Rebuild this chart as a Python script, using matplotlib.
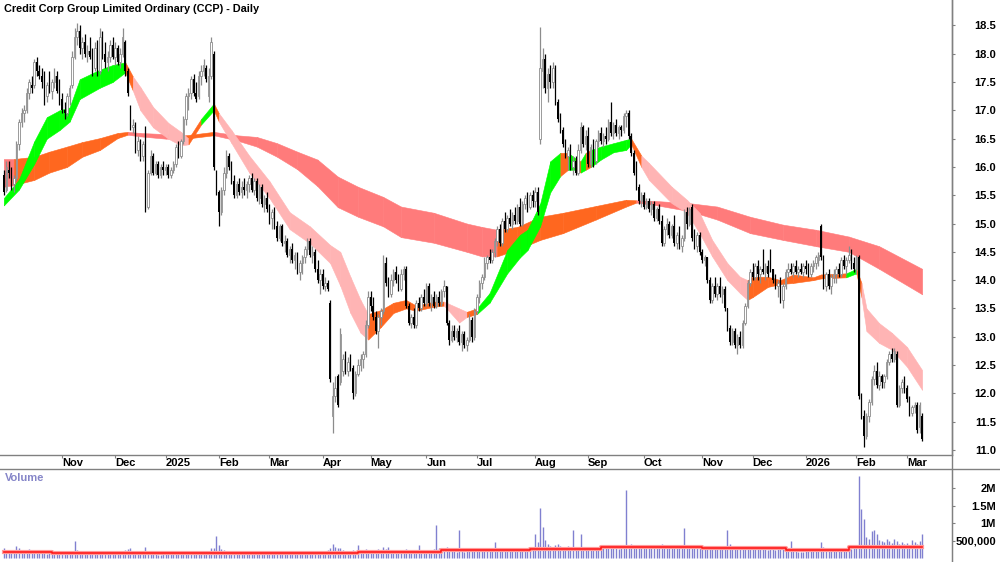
import numpy as np
import pandas as pd
import matplotlib
matplotlib.use("Agg")
import matplotlib.pyplot as plt
from matplotlib.lines import Line2D

FONT = ['Liberation Sans', 'DejaVu Sans']

# trading days (ASX), Oct 2024 - Mar 2026
holidays = ["2024-12-25", "2024-12-26", "2025-01-01", "2025-01-27", "2025-04-18",
            "2025-04-21", "2025-04-25", "2025-06-09", "2025-12-25", "2025-12-26",
            "2026-01-01", "2026-01-26"]
dates = pd.bdate_range("2024-10-01", "2026-03-10")
dates = dates[~dates.isin(pd.to_datetime(holidays))]

# daily prices, one line per month
opens = [
    15.85,15.6,15.95,15.9,15.7,15.8,16.4,16.8,16.95,17.0,17.3,17.45,17.45,17.85,17.7,17.6,17.5,17.25,17.45,17.35,17.5,17.6,17.35,
    17.2,17.0,16.95,17.25,17.45,17.95,18.3,18.4,18.1,18.2,18.0,18.05,17.95,17.75,18.1,17.7,18.3,18.0,17.85,17.95,18.15,
    17.95,18.1,17.85,18.0,18.2,17.7,17.05,16.7,16.75,16.3,16.45,16.2,16.7,15.3,15.9,16.2,15.9,16.05,15.85,16.0,
    15.95,16.0,15.85,15.95,16.05,16.35,16.2,16.45,16.85,17.25,17.3,17.55,17.3,17.25,17.6,17.7,17.75,17.25,17.6,18.0,15.9,
    15.55,15.2,15.6,15.9,16.2,16.0,15.75,15.5,15.7,15.55,15.65,15.6,15.7,15.8,15.6,15.75,15.45,15.65,15.35,15.45,
    15.25,15.1,15.2,14.95,14.75,14.95,14.65,14.7,14.45,14.55,14.35,14.45,14.15,14.3,14.4,14.55,14.7,14.45,14.5,14.2,14.0,
    14.1,13.9,13.95,13.6,11.6,11.95,12.3,12.2,12.4,12.6,12.4,12.55,12.45,12.0,12.35,12.5,12.6,12.7,13.2,
    13.7,13.55,13.35,13.1,13.35,13.45,14.3,13.95,13.75,14.0,14.15,14.0,13.85,14.1,14.2,13.55,13.25,13.35,13.2,13.6,13.5,13.7,
    13.6,13.9,13.6,13.7,13.55,13.7,13.6,13.8,13.9,13.25,12.95,13.1,13.0,13.1,12.9,13.05,12.85,12.95,13.3,13.0,
    13.45,13.7,13.95,14.05,14.3,14.4,14.35,14.5,14.7,14.9,14.65,15.05,14.9,15.1,15.0,15.15,15.05,15.3,15.0,15.35,15.45,15.3,15.5,
    15.4,15.55,16.5,17.7,17.9,17.4,17.65,17.5,17.75,17.15,16.85,16.65,16.4,16.2,16.3,16.0,16.1,15.9,16.3,16.7,16.4,
    16.55,16.05,16.35,16.1,16.45,16.6,16.45,16.55,16.5,16.8,16.6,16.75,16.6,16.7,16.65,16.9,16.95,16.55,16.25,15.9,15.65,15.4,
    15.5,15.3,15.4,15.25,15.35,15.1,15.25,15.05,14.65,14.9,15.0,14.8,14.95,14.65,14.8,14.6,14.75,15.2,15.0,15.3,14.75,14.6,14.8,
    14.5,14.35,14.4,14.0,13.65,13.9,13.75,13.9,13.75,13.85,13.5,13.15,12.9,13.1,12.85,13.0,12.85,13.25,13.55,13.95,
    14.15,14.05,14.25,14.1,14.2,14.15,14.25,14.5,14.2,14.0,13.9,13.95,13.65,13.9,14.15,14.2,14.15,14.25,14.15,14.2,14.15,
    14.25,14.2,14.1,14.25,14.3,14.35,14.95,14.4,13.9,14.1,13.9,14.05,14.1,14.2,14.1,14.35,14.25,14.35,14.45,14.3,
    14.2,14.4,11.95,11.6,11.25,11.6,11.85,12.25,12.4,12.15,12.3,12.2,12.3,12.55,12.7,12.6,12.7,11.8,12.1,12.25,
    12.1,11.9,11.65,11.75,11.8,11.4,11.6]
highs = [
    15.95,16.1,16.1,16.0,15.85,16.45,16.85,17.05,17.1,17.4,17.55,17.6,17.9,17.95,17.8,17.75,17.7,17.5,17.7,17.55,17.75,17.7,17.55,
    17.3,17.15,17.3,17.45,18.05,18.45,18.55,18.5,18.3,18.35,18.15,18.3,18.1,18.2,18.25,18.45,18.4,18.2,18.05,18.25,18.3,
    18.2,18.15,18.1,18.45,18.25,17.75,17.1,16.85,16.8,16.55,16.5,16.45,16.72,15.95,16.3,16.25,16.1,16.1,16.05,16.1,
    16.05,16.05,16.0,16.1,16.4,16.45,16.5,16.9,17.3,17.4,17.6,17.65,17.5,17.7,17.8,17.9,17.8,17.75,18.3,18.05,15.95,
    15.6,15.65,16.0,16.3,16.25,16.1,15.85,15.75,15.8,15.75,15.8,15.75,15.85,15.9,15.8,15.8,15.7,15.7,15.5,15.55,
    15.35,15.25,15.3,15.05,15.0,15.0,14.8,14.75,14.6,14.65,14.5,14.5,14.35,14.45,14.6,14.75,14.75,14.6,14.55,14.35,14.2,
    14.2,14.05,14.0,13.65,12.2,12.3,12.35,13.15,12.7,12.75,12.65,12.7,12.5,12.4,12.6,12.7,12.75,13.3,13.8,
    13.8,13.7,13.45,13.4,13.5,14.45,14.4,14.05,14.1,14.2,14.25,14.1,14.2,14.25,14.25,13.6,13.4,13.5,13.65,13.7,13.75,13.85,
    13.95,13.95,13.75,13.8,13.75,13.8,13.85,14.0,13.9,13.3,13.2,13.2,13.15,13.2,13.1,13.1,13.0,13.4,13.35,13.5,
    13.75,14.0,14.1,14.4,14.45,14.55,14.55,14.75,14.95,15.0,15.1,15.2,15.15,15.25,15.2,15.3,15.35,15.45,15.4,15.5,15.55,15.55,15.6,
    15.65,15.65,18.48,18.1,18.0,17.75,17.8,17.85,17.8,17.2,16.95,16.7,16.5,16.35,16.4,16.2,16.2,16.4,16.8,16.75,16.65,
    16.7,16.4,16.5,16.5,16.65,16.7,16.6,16.7,16.85,17.15,16.8,16.85,16.75,16.75,16.95,17.0,17.0,16.6,16.3,16.1,15.7,15.55,
    15.55,15.45,15.45,15.4,15.4,15.3,15.35,15.15,14.95,15.1,15.05,15.0,15.15,14.85,14.95,14.8,15.25,15.3,15.3,15.35,14.9,14.85,14.85,
    14.55,14.45,14.4,14.05,13.95,14.05,13.95,14.05,13.9,13.9,13.5,13.2,13.15,13.15,13.05,13.1,13.3,13.6,14.0,14.2,
    14.3,14.3,14.35,14.25,14.55,14.3,14.35,14.55,14.2,14.1,14.0,14.05,13.95,14.2,14.3,14.3,14.3,14.35,14.25,14.3,14.3,
    14.35,14.3,14.3,14.35,14.45,14.5,15.0,14.45,14.15,14.2,14.1,14.2,14.25,14.3,14.4,14.45,14.4,14.6,14.55,14.4,
    14.45,14.45,12.0,11.7,11.65,11.9,12.3,12.5,12.55,12.4,12.35,12.35,12.6,12.75,12.8,12.8,12.75,12.15,12.25,12.3,
    12.15,11.95,11.8,11.85,11.85,11.85,11.65]
lows = [
    15.5,15.55,15.8,15.6,15.55,15.75,16.3,16.7,16.8,16.95,17.2,17.3,17.4,17.6,17.55,17.4,17.1,17.15,17.3,17.2,17.4,17.3,17.1,
    16.95,16.85,16.9,17.1,17.4,17.9,18.15,18.0,17.9,17.95,17.85,17.9,17.6,17.7,17.6,17.65,17.9,17.75,17.7,17.85,17.9,
    17.8,17.8,17.75,17.95,17.6,17.25,16.65,16.6,16.25,16.2,16.1,16.1,15.2,15.25,15.85,15.85,15.85,15.8,15.8,15.85,
    15.85,15.8,15.8,15.9,16.0,16.15,16.15,16.4,16.75,17.0,17.2,17.25,17.15,17.2,17.45,17.6,17.5,17.15,17.55,15.95,15.5,
    14.95,15.15,15.5,15.8,15.95,15.7,15.45,15.45,15.5,15.45,15.5,15.45,15.55,15.55,15.5,15.4,15.35,15.3,15.2,15.2,
    15.0,14.9,14.9,14.7,14.7,14.6,14.5,14.4,14.3,14.3,14.2,14.1,14.0,14.1,14.3,14.45,14.4,14.3,14.15,13.95,13.75,
    13.85,13.8,13.8,12.2,11.3,11.85,11.75,12.15,12.3,12.35,12.3,12.4,11.9,11.95,12.3,12.4,12.45,12.65,13.15,
    13.45,13.3,13.05,12.8,13.2,13.4,13.9,13.7,13.7,13.9,13.95,13.8,13.8,14.0,13.5,13.2,13.15,13.15,13.15,13.45,13.45,13.55,
    13.55,13.55,13.45,13.5,13.5,13.55,13.55,13.7,13.2,12.85,12.9,12.95,12.9,12.85,12.75,12.8,12.75,12.9,12.9,12.95,
    13.4,13.6,13.85,14.0,14.2,14.3,14.3,14.4,14.6,14.6,14.6,14.85,14.85,14.95,14.9,15.0,15.0,14.95,14.95,15.25,15.2,15.25,15.3,
    15.3,15.15,16.4,17.4,17.3,17.15,17.4,17.4,17.1,16.8,16.6,16.35,16.15,15.95,15.95,15.85,15.85,15.85,16.25,16.35,16.3,
    16.0,16.0,16.0,16.05,16.35,16.4,16.35,16.4,16.45,16.55,16.5,16.55,16.5,16.55,16.6,16.7,16.5,16.2,15.85,15.6,15.35,15.3,
    15.25,15.25,15.2,15.15,15.05,15.05,15.0,14.6,14.6,14.8,14.75,14.75,14.6,14.55,14.55,14.5,14.7,14.9,14.95,14.7,14.55,14.5,14.45,
    14.3,14.25,13.95,13.6,13.6,13.7,13.65,13.7,13.6,13.45,13.1,12.85,12.85,12.8,12.7,12.8,12.8,13.2,13.5,13.9,
    14.0,14.0,14.0,13.95,14.1,14.0,14.05,14.15,13.95,13.85,13.7,13.6,13.5,13.85,14.05,14.1,14.05,14.1,14.05,14.1,14.05,
    14.1,14.05,14.05,14.15,14.2,14.25,14.35,13.85,13.8,13.85,13.75,13.95,13.95,14.05,14.05,14.2,14.1,14.3,14.2,14.15,
    14.1,11.9,11.55,11.05,11.2,11.5,11.8,12.15,12.1,12.05,12.1,12.1,12.25,12.5,12.55,12.55,11.75,11.75,12.0,12.0,
    11.85,11.6,11.6,11.65,11.3,11.3,11.15]
closes = [
    15.55,16.0,15.9,15.65,15.8,16.4,16.8,16.95,17.0,17.3,17.5,17.4,17.85,17.7,17.6,17.5,17.2,17.45,17.35,17.5,17.6,17.35,17.2,
    17.0,16.95,17.25,17.4,17.95,18.3,18.4,18.1,18.2,18.0,18.05,17.95,17.7,18.1,17.65,18.3,18.0,17.85,17.95,18.15,17.95,
    18.1,17.85,18.0,18.3,17.7,17.3,16.7,16.75,16.3,16.45,16.2,16.4,15.25,15.9,16.2,15.9,16.05,15.85,16.0,15.95,
    16.0,15.85,15.95,16.05,16.35,16.2,16.45,16.85,17.25,17.3,17.55,17.3,17.2,17.6,17.7,17.8,17.55,17.6,18.2,16.0,15.55,
    15.2,15.6,15.9,16.2,16.0,15.75,15.5,15.7,15.55,15.65,15.6,15.7,15.8,15.6,15.75,15.45,15.65,15.35,15.45,15.25,
    15.1,15.2,14.95,14.75,14.95,14.65,14.7,14.45,14.55,14.35,14.45,14.15,14.3,14.4,14.55,14.7,14.45,14.5,14.2,14.0,14.1,
    13.9,13.95,13.85,12.25,11.95,12.1,11.8,13.05,12.6,12.4,12.55,12.45,12.0,12.35,12.5,12.6,12.7,13.2,13.7,
    13.55,13.35,13.1,13.35,13.45,14.3,13.95,13.75,14.0,14.15,14.0,13.85,14.1,14.2,13.55,13.25,13.35,13.2,13.6,13.5,13.7,13.6,
    13.9,13.6,13.7,13.55,13.7,13.6,13.8,13.9,13.25,12.95,13.1,13.0,13.1,12.9,13.05,12.85,12.95,13.3,13.0,13.45,
    13.7,13.95,14.05,14.3,14.4,14.35,14.5,14.7,14.9,14.65,15.05,14.9,15.1,15.0,15.15,15.05,15.3,15.0,15.35,15.45,15.3,15.5,15.4,
    15.55,15.2,17.75,17.9,17.4,17.65,17.5,17.75,17.15,16.85,16.65,16.4,16.2,16.3,16.0,16.1,15.9,16.3,16.7,16.4,16.55,
    16.05,16.35,16.1,16.45,16.6,16.45,16.55,16.5,16.8,16.6,16.75,16.6,16.7,16.65,16.9,16.95,16.55,16.25,15.9,15.65,15.4,15.5,
    15.3,15.4,15.25,15.35,15.1,15.25,15.05,14.65,14.9,15.0,14.8,14.95,14.65,14.8,14.6,14.75,15.2,15.0,15.25,14.75,14.6,14.8,14.5,
    14.35,14.4,14.0,13.65,13.9,13.75,13.9,13.75,13.85,13.5,13.15,12.9,13.1,12.85,13.0,12.85,13.25,13.55,13.95,14.15,
    14.05,14.25,14.1,14.2,14.15,14.25,14.1,14.2,14.0,13.9,13.95,13.65,13.9,14.15,14.2,14.15,14.25,14.15,14.2,14.15,14.25,
    14.2,14.1,14.25,14.3,14.4,14.45,14.4,13.9,14.1,13.9,14.05,14.1,14.2,14.1,14.35,14.25,14.35,14.45,14.3,14.2,
    14.4,11.95,11.6,11.25,11.6,11.85,12.25,12.4,12.15,12.3,12.2,12.3,12.55,12.7,12.6,12.75,11.8,12.1,12.2,12.1,
    11.9,11.65,11.75,11.8,11.35,11.8,11.2]

# volume in thousands of shares
volumes = [
    280,200,170,230,190,340,290,240,210,170,260,160,140,190,150,220,170,130,160,190,150,140,180,
    160,130,210,140,190,480,240,170,150,130,160,120,140,170,120,110,140,130,110,150,120,
    140,120,150,130,220,260,300,180,170,150,140,130,330,210,160,130,110,90,100,120,
    110,130,120,140,160,150,130,170,190,180,150,160,140,170,190,210,180,200,300,300,640,
    380,250,220,200,180,170,200,150,140,160,130,150,170,140,120,150,160,130,140,150,
    170,150,160,180,140,150,170,190,160,150,180,200,170,160,150,140,170,160,180,200,190,
    180,200,230,300,420,330,280,300,220,200,190,210,240,180,370,200,230,260,220,
    200,190,230,260,210,330,250,310,190,180,200,170,190,210,250,220,180,170,190,390,230,160,
    190,210,200,250,950,300,220,200,330,280,220,200,190,800,230,180,200,250,220,210,
    260,240,280,300,250,230,270,460,290,250,280,260,230,250,270,300,280,260,250,240,290,310,330,
    700,450,1450,880,520,400,350,330,380,420,360,330,310,350,300,800,290,310,700,330,300,
    290,310,280,330,300,270,290,310,280,320,300,290,270,280,310,1960,380,420,390,350,340,330,
    320,300,280,310,290,330,300,420,330,300,280,310,340,300,320,380,860,330,350,300,280,310,290,
    300,280,330,360,310,290,300,320,280,350,820,400,360,340,310,300,330,350,300,290,
    280,260,300,250,270,290,240,310,260,230,250,280,300,260,240,480,220,200,180,170,190,
    210,230,220,250,240,260,450,320,260,240,230,250,220,240,260,230,270,290,250,330,
    300,2360,1410,1120,620,540,780,820,700,520,480,460,560,500,430,540,480,420,460,400,
    440,380,520,450,400,480,690]

# volume average line (millions), step levels
vol_avg_from = [0, 19, 82, 140, 173, 208, 236, 276, 309, 334]
vol_avg_level = [0.19, 0.14, 0.16, 0.19, 0.23, 0.27, 0.31, 0.28, 0.23, 0.31]

# short-term ribbon: day index, upper, lower, colour code
short_day = [0, 6, 12, 17, 22, 26, 30, 38, 43, 48, 51, 54, 59, 65, 70, 73, 78, 83, 85, 90,
             97, 105, 113, 121, 129, 133, 137, 141, 144, 149, 154, 159, 163, 170, 174, 180, 183,
             187, 192, 199, 204, 207, 212, 216, 220, 223, 226, 228, 230, 232, 236, 241, 246, 248,
             252, 255, 264, 270, 275, 280, 286, 291, 294, 296, 302, 307, 312, 320, 323, 333, 337,
             339, 341, 346, 351, 357, 363]
short_hi = [15.45, 15.78, 16.45, 16.88, 17.0, 17.05, 17.55, 17.72, 17.8, 17.85, 17.6, 17.41, 17.06,
            16.78, 16.62, 16.5, 16.85, 17.12, 16.95, 16.65, 16.2, 15.75, 15.2, 14.95, 14.62, 14.5,
            14.06, 13.65, 13.4, 13.47, 13.6, 13.65, 13.55, 13.62, 13.62, 13.5, 13.44, 13.5, 13.77,
            14.53, 14.8, 14.89, 15.35, 16.1, 16.25, 16.25, 16.15, 16.1, 16.25, 16.3, 16.36, 16.42,
            16.48, 16.5, 16.2, 16.07, 15.65, 15.42, 15.19, 14.71, 14.3, 14.06, 14.0, 14.06, 14.06,
            14.0, 14.1, 14.05, 14.1, 14.12, 14.2, 13.95, 13.5, 13.24, 13.07, 12.82, 12.41]
short_lo = [15.32, 15.6, 16.05, 16.5, 16.65, 16.8, 17.2, 17.4, 17.5, 17.67, 17.35, 17.0, 16.7,
            16.5, 16.38, 16.4, 16.75, 17.0, 16.8, 16.42, 15.9, 15.45, 14.9, 14.65, 14.3, 13.9,
            13.42, 13.07, 12.95, 13.17, 13.42, 13.5, 13.46, 13.53, 13.55, 13.25, 13.35, 13.4, 13.6,
            14.12, 14.4, 14.53, 14.95, 15.55, 15.84, 15.95, 15.95, 15.9, 15.95, 16.0, 16.13, 16.26,
            16.3, 16.4, 16.0, 15.77, 15.36, 15.19, 14.83, 14.42, 14.0, 13.77, 13.65, 13.7, 13.88,
            13.93, 13.95, 14.0, 14.03, 14.05, 14.12, 13.7, 13.1, 12.89, 12.77, 12.47, 12.06]
short_col = list('g' * 9 + 'o' + 'p' * 5 + 'ogo' + 'p' * 10 + 'o' * 6 + 'pp' + 'o' + 'g' * 7
                 + 'ogogo' + 'g' * 4 + 'o' + 'p' * 8 + 'o' * 7 + 'go' + 'p' * 6)

# long-term ribbon
long_day = [0, 4, 12, 18, 25, 31, 38, 45, 49, 54, 64, 72, 83, 92, 100, 108, 116, 124, 132, 140,
            150, 157, 170, 183, 189, 195, 203, 212, 221, 234, 246, 250, 257, 271, 282, 295, 308,
            321, 334, 346, 363]
long_hi = [16.14, 16.14, 16.18, 16.27, 16.36, 16.44, 16.51, 16.6, 16.62, 16.6, 16.58, 16.56, 16.62,
           16.56, 16.53, 16.42, 16.27, 16.13, 15.83, 15.65, 15.47, 15.3, 15.19, 15.0, 14.94, 14.89,
           14.94, 15.12, 15.19, 15.31, 15.42, 15.41, 15.4, 15.36, 15.3, 15.12, 14.98, 14.89, 14.77,
           14.6, 14.2]
long_lo = [15.65, 15.68, 15.77, 15.9, 16.0, 16.18, 16.3, 16.51, 16.57, 16.54, 16.5, 16.5, 16.56,
           16.47, 16.36, 16.18, 15.96, 15.66, 15.29, 15.12, 14.95, 14.76, 14.66, 14.5, 14.42, 14.42,
           14.54, 14.71, 14.83, 15.07, 15.3, 15.37, 15.33, 15.22, 15.07, 14.83, 14.71, 14.6, 14.5,
           14.2, 13.75]
long_col = list('r' + 'o' * 7 + 'r' * 3 + 'o' + 'r' * 13 + 'o' * 6 + 'r' * 10)

colours = {'g': '#00ff00', 'p': '#ffb4b4', 'o': '#ff671f', 'r': '#ff7b7b'}

n = len(closes)
assert len(opens) == n and len(highs) == n and len(lows) == n and len(volumes) == n == len(dates), \
    (len(opens), len(highs), len(lows), n, len(volumes), len(dates))

x = np.arange(n)
o = np.array(opens)
h = np.array(highs)
l = np.array(lows)
c = np.array(closes)
v = np.array(volumes) / 1000.0

W, H = 1000, 562
fig = plt.figure(figsize=(10, 5.62), dpi=100)
ax = fig.add_axes([0, 107 / H, 952 / W, 455 / H])
axv = fig.add_axes([0, 0, 952 / W, 93 / H])

# ribbons
for days, hi, lo, col in [(long_day, long_hi, long_lo, long_col),
                          (short_day, short_hi, short_lo, short_col)]:
    for k in range(len(days) - 1):
        cc = colours[col[k]]
        ax.fill_between(days[k:k + 2], lo[k:k + 2], hi[k:k + 2], color=cc,
                        lw=0.4, edgecolor=cc, zorder=1)

# candles
up = c >= o
ax.vlines(x[up], l[up], h[up], color='#8c8c8c', lw=0.9, zorder=2)
ax.vlines(x[~up], l[~up], h[~up], color='black', lw=0.9, zorder=2)
ax.bar(x[up], np.maximum(c[up] - o[up], 0.02), bottom=o[up], width=0.6,
       facecolor='white', edgecolor='#8c8c8c', linewidth=0.6, zorder=3)
ax.bar(x[~up], o[~up] - c[~up], bottom=c[~up], width=0.6,
       color='black', linewidth=0, zorder=3)

xmin, xmax = -1.5, 374.8
ax.set_xlim(xmin, xmax)
ax.set_ylim(10.91, 18.95)

# month ticks
tick_idx, tick_lab = [], []
for i in range(1, n):
    if dates[i].month != dates[i - 1].month:
        tick_idx.append(i)
        tick_lab.append(str(dates[i].year) if dates[i].month == 1 else dates[i].strftime('%b'))
ax.set_xticks(tick_idx)
ax.set_xticklabels(tick_lab, ha='left', family=FONT, fontweight='bold', fontsize=8)
ax.tick_params(axis='x', direction='out', length=2, width=0.8, color='#808080', pad=0.5)

yt = np.arange(11.0, 18.51, 0.5)
ax.yaxis.tick_right()
ax.set_yticks(yt)
ax.set_yticklabels(['%.1f' % t for t in yt], ha='right', family=FONT,
                   fontweight='bold', fontsize=8)
ax.tick_params(axis='y', direction='out', length=2, width=0.8, color='#808080', pad=29.5)

for s in ['top', 'left']:
    ax.spines[s].set_visible(False)
for s in ['bottom', 'right']:
    ax.spines[s].set_color('#808080')
    ax.spines[s].set_linewidth(1.0)

# volume panel
axv.vlines(x, 0, v, color='#8080d0', lw=1.0)
steps_x = vol_avg_from + [n - 1]
steps_y = vol_avg_level + [vol_avg_level[-1]]
axv.step(steps_x, steps_y, where='post', color='#ff9a9a', lw=3.0, zorder=3)
axv.step(steps_x, steps_y, where='post', color='#ff1a1a', lw=1.2, zorder=4)
axv.set_xlim(xmin, xmax)
axv.set_ylim(-0.11, 2.556)
axv.set_xticks([])
axv.yaxis.tick_right()
axv.set_yticks([0.5, 1.0, 1.5, 2.0])
axv.set_yticklabels(['500,000', '1M', '1.5M', '2M'], ha='right', family=FONT,
                    fontweight='bold', fontsize=8)
axv.tick_params(axis='y', direction='out', length=2, width=0.8, color='#808080', pad=29.5)
for s in ['top', 'left', 'bottom']:
    axv.spines[s].set_visible(False)
axv.spines['right'].set_color('#808080')

# separators
fig.add_artist(Line2D([0, 1], [1 - 469 / H] * 2, color='#808080', lw=1.0))
fig.add_artist(Line2D([952 / W] * 2, [0, 1], color='#808080', lw=1.0))

fig.text(4 / W, 1 - 9 / H, 'Credit Corp Group Limited Ordinary (CCP) - Daily',
         family=FONT, fontweight='bold', fontsize=7.8, va='center', ha='left')
fig.text(5 / W, 1 - 478 / H, 'Volume', color='#8585c8', family=FONT,
         fontweight='bold', fontsize=8, va='center', ha='left')

fig.savefig('out.png', dpi=100)
